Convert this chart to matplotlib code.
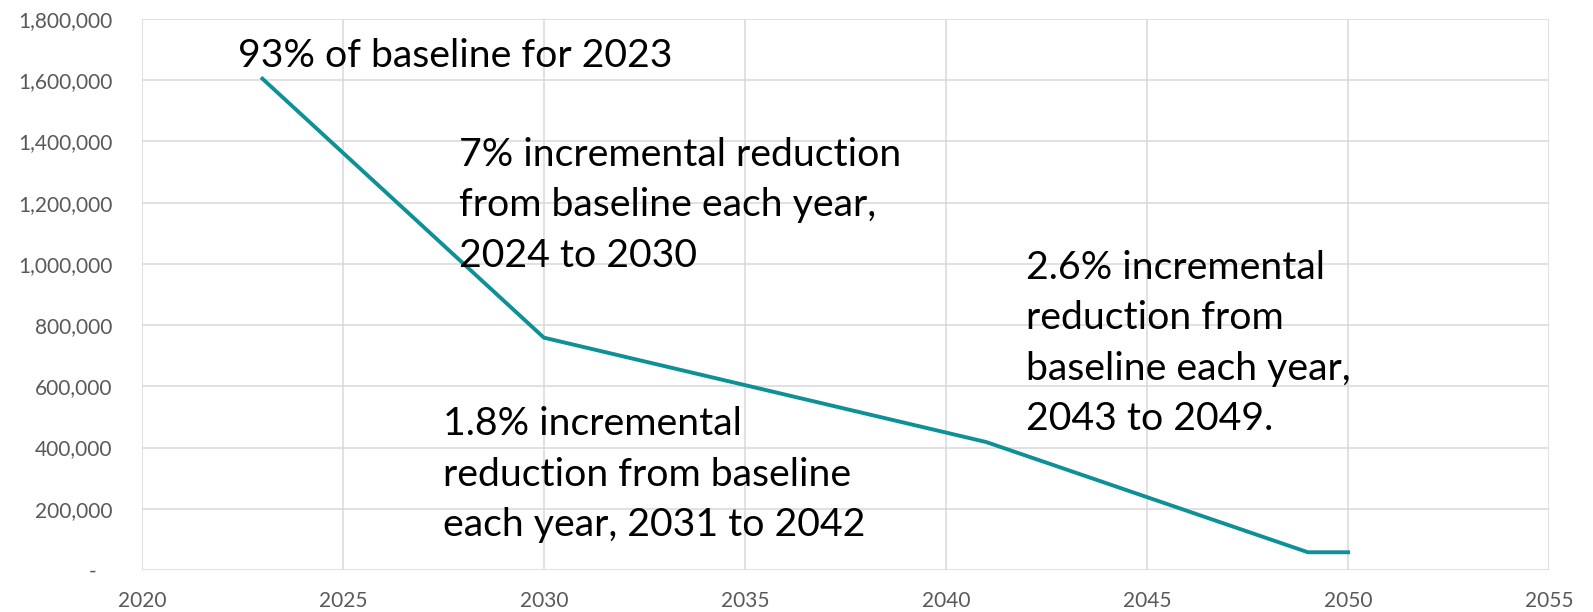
import matplotlib
matplotlib.use("Agg")
import matplotlib.pyplot as plt
from matplotlib.ticker import FuncFormatter, MultipleLocator

# Emissions cap trajectory: kinks where the annual reduction rate changes
years = [2023, 2030, 2041, 2049, 2050]
cap = [1605000, 759000, 418000, 58000, 58000]

notes = [
    "93% of baseline for 2023",
    "7% incremental reduction\nfrom baseline each year,\n2024 to 2030",
    "1.8% incremental\nreduction from baseline\neach year, 2031 to 2042",
    "2.6% incremental\nreduction from\nbaseline each year,\n2043 to 2049.",
]
# (x in years, y in tonnes) of each note's upper-left corner
note_pos = [(2022.4, 1737000), (2027.9, 1415000), (2027.5, 535000), (2042.0, 1046000)]

plt.rcParams["font.family"] = ["Lato", "DejaVu Sans"]

fig = plt.figure(figsize=(15.93, 6.12), dpi=100)
ax = fig.add_axes([0.089, 0.0686, 0.8835, 0.9004])

ax.plot(years, cap, color="#0E9196", linewidth=2.8, solid_joinstyle="miter")

ax.set_xlim(2020, 2055)
ax.set_ylim(0, 1800000)
ax.xaxis.set_major_locator(MultipleLocator(5))
ax.yaxis.set_major_locator(MultipleLocator(200000))


def fmt(v, pos):
    if v == 0:
        return "-   "
    return f"{v:,.0f}"


ax.yaxis.set_major_formatter(FuncFormatter(fmt))
ax.grid(True, color="#D9D9D9", linewidth=1.1)
ax.set_axisbelow(True)
for s in ax.spines.values():
    s.set_visible(False)
ax.tick_params(length=0, colors="#595959", labelsize=15)
ax.tick_params(axis="y", pad=21)
ax.tick_params(axis="x", pad=15)

for txt, (x, y) in zip(notes, note_pos):
    ax.text(x, y, txt, fontsize=28.3, color="black", ha="left", va="top",
            linespacing=1.5)

fig.savefig("out.png", dpi=100)
